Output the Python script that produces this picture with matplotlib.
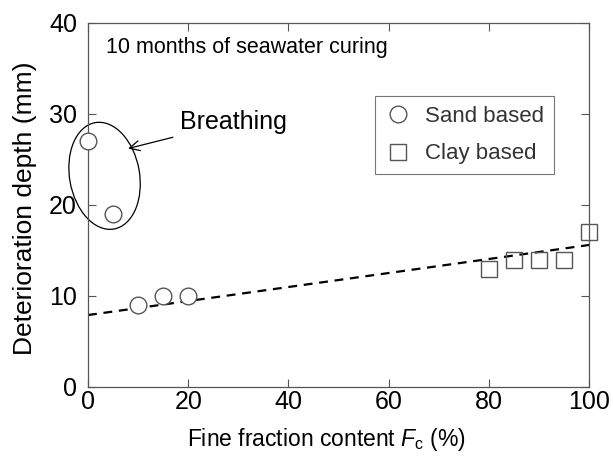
import matplotlib
matplotlib.use("Agg")
import matplotlib.pyplot as plt
import matplotlib.transforms as mtransforms
from matplotlib.patches import Ellipse

plt.rcParams['font.family'] = ['Liberation Sans', 'DejaVu Sans']
plt.rcParams['mathtext.fontset'] = 'custom'
plt.rcParams['mathtext.rm'] = 'Liberation Sans'
plt.rcParams['mathtext.it'] = 'Liberation Sans:italic'

# Data
sand_fc = [0, 5, 10, 15, 20]
sand_depth = [27, 19, 9, 10, 10]
clay_fc = [80, 85, 90, 95, 100]
clay_depth = [13, 14, 14, 14, 17]
fit_fc = [0, 100]
fit_depth = [7.9, 15.6]

fig = plt.figure(figsize=(6.13, 4.59), dpi=100)
ax = fig.add_axes([0.1436, 0.157, 0.8174, 0.793])

ax.plot(fit_fc, fit_depth, color='black', linestyle=(0, (4, 3)), linewidth=1.6, zorder=2)
ax.plot(sand_fc, sand_depth, linestyle='none', marker='o', markersize=12,
        markerfacecolor='white', markeredgecolor='#555555', markeredgewidth=1,
        label='Sand based', zorder=3, clip_on=False)
ax.plot(clay_fc, clay_depth, linestyle='none', marker='s', markersize=12,
        markerfacecolor='none', markeredgecolor='#555555', markeredgewidth=1,
        label='Clay based', zorder=3, clip_on=False)

ax.set_xlim(0, 100)
ax.set_ylim(0, 40)
ax.set_xticks([0, 20, 40, 60, 80, 100])
ax.set_yticks([0, 10, 20, 30, 40])
ax.tick_params(direction='in', length=6, width=0.8, color='#555555',
               top=True, right=True, labelsize=18)
ax.tick_params(axis='x', pad=2)
ax.tick_params(axis='y', pad=8)
for s in ax.spines.values():
    s.set_color('#555555')
    s.set_linewidth(0.9)

ax.set_xlabel(r'Fine fraction content $F_{\rm c}$ (%)', fontsize=16.5)
ax.xaxis.set_label_coords(0.475, -0.108)
ax.set_ylabel('Deterioration depth (mm)', fontsize=19)
ax.yaxis.set_label_coords(-0.102, 0.49)

ax.text(3.5, 37.3, '10 months of seawater curing', fontsize=15.5, va='center', ha='left')

# Ellipse around the breathing points (sized in inches, centred in data coords)
trans = fig.dpi_scale_trans + mtransforms.ScaledTranslation(3.3, 23.2, ax.transData)
ax.add_patch(Ellipse((0, 0), width=1.08, height=0.70, angle=100, fill=False,
                     edgecolor='black', linewidth=0.9, transform=trans, clip_on=False))
ax.annotate('Breathing', xy=(8, 26.2), xytext=(18.3, 29.1), fontsize=18,
            va='center', ha='left',
            arrowprops=dict(arrowstyle='->', color='black', lw=0.9, shrinkA=3, shrinkB=0))

leg = ax.legend(loc='upper right', bbox_to_anchor=(0.93, 0.80), fontsize=16,
                frameon=True, fancybox=False, handletextpad=0.6, borderpad=0.45,
                labelspacing=0.75, handlelength=1.2, borderaxespad=0)
leg.get_frame().set_edgecolor('#555555')
leg.get_frame().set_linewidth(0.8)
for t in leg.get_texts():
    t.set_color('#333333')

fig.savefig('out.png', dpi=100)
